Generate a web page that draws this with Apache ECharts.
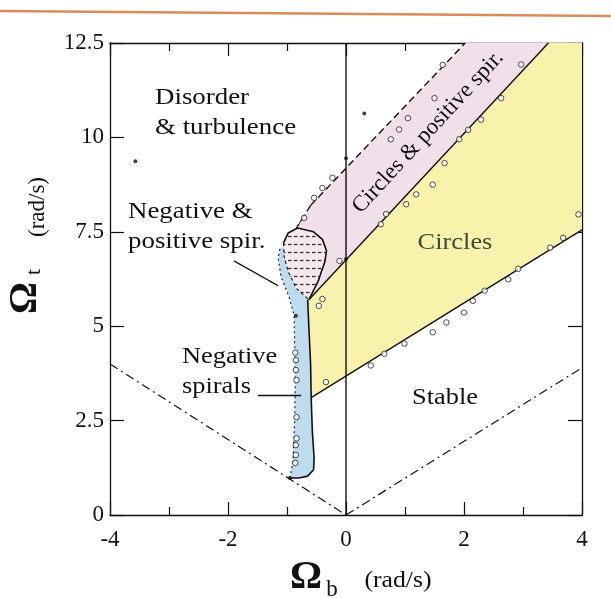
<!DOCTYPE html>
<html><head><meta charset="utf-8">
<script src="https://cdn.jsdelivr.net/npm/echarts@6/dist/echarts.min.js"></script>
<style>html,body{margin:0;padding:0;background:#fff}#c{width:611px;height:598px}</style>
</head><body><div id="c"></div>
<script>
// ---- axis ranges / ticks ----
const xRange = [-4, 4];
const yRange = [0, 12.5];
const xTickStep = 2;
const yTickStep = 2.5;

// ---- boundary lines (Omega_b, Omega_t) ----
const axisZeroLine = [[0, 0], [0, 12.5]];
const upperSolidBoundary = [[-0.63, 5.7], [3.43, 12.5]];
const lowerSolidBoundary = [[-0.59, 3.11], [4, 7.55]];
const dashedBoundary = [[-0.6, 8.2], [2.02, 12.5]];
const dashedArrowEnd = [[-0.6, 8.2], [-0.84, 7.6]];
const stabilityLeft = [[-4, 4.0], [0, 0]];
const stabilityRight = [[0, 0], [4, 3.9]];

// ---- regions ----
const pinkRegion = [[-0.84, 7.6], [-0.6, 8.2], [2.02, 12.5], [3.43, 12.5], [-0.63, 5.7], [-0.4, 6.4], [-0.33, 7.0], [-0.5, 7.5]];
const yellowRegion = [[-0.63, 5.7], [3.43, 12.5], [4, 12.5], [4, 7.55], [-0.59, 3.11], [-0.61, 4.5], [-0.63, 5.4]];
const blueRegion = [[-0.95, 0.98], [-0.9, 1.4], [-0.87, 2.5], [-0.86, 3.5], [-0.87, 4.5], [-0.88, 5.3], [-0.97, 5.8], [-1.1, 6.3], [-1.15, 6.8], [-1.12, 7.05], [-1.0, 7.2], [-0.75, 6.3], [-0.63, 5.7], [-0.63, 5.0], [-0.6, 4.0], [-0.59, 3.1], [-0.57, 2.2], [-0.54, 1.5], [-0.55, 1.2], [-0.65, 1.03], [-0.8, 0.98]];
const lobeRegion = [[-0.63, 5.7], [-0.47, 6.2], [-0.36, 6.7], [-0.33, 7.0], [-0.4, 7.3], [-0.55, 7.5], [-0.82, 7.6], [-0.98, 7.47], [-1.06, 7.2], [-1.05, 6.85], [-0.98, 6.45], [-0.84, 6.0]];
const lobeOutline = [[-0.63, 5.7], [-0.47, 6.2], [-0.36, 6.7], [-0.33, 7.0], [-0.4, 7.3], [-0.55, 7.5], [-0.82, 7.6], [-0.98, 7.47], [-1.06, 7.2]];
const lobeLeftEdge = [[-1.06, 7.2], [-1.05, 6.85], [-0.98, 6.45], [-0.84, 6.0], [-0.63, 5.7]];
const stripRightEdge = [[-0.65, 5.7], [-0.63, 5.0], [-0.6, 4.0], [-0.59, 3.1], [-0.57, 2.2], [-0.54, 1.5], [-0.55, 1.2], [-0.65, 1.03], [-0.8, 0.98], [-0.97, 0.98]];
const stripLeftEdge = [[-0.95, 0.98], [-0.9, 1.4], [-0.87, 2.5], [-0.86, 3.5], [-0.87, 4.5], [-0.88, 5.3], [-0.97, 5.8], [-1.1, 6.3], [-1.15, 6.8], [-1.12, 7.05]];

// ---- arrows ----
const arrowNegPos = [[-1.9, 6.73], [-1.15, 6.07]];
const arrowNegSpirals = [[-1.49, 3.17], [-0.76, 3.17]];

// ---- measured points ----
const openCircles = [
  [1.64, 11.92], [1.50, 11.04], [1.05, 10.51], [0.90, 10.21], [0.76, 9.95],
  [2.97, 11.93], [2.63, 11.04], [2.29, 10.47], [2.07, 10.2], [1.92, 9.95],
  [1.67, 9.32], [1.47, 8.75], [1.19, 8.49], [1.02, 8.23], [0.68, 7.97], [0.59, 7.7],
  [3.94, 7.96], [3.68, 7.34], [3.46, 7.08], [2.92, 6.52], [-0.11, 6.73],
  [-0.23, 8.93], [-0.40, 8.66], [-0.54, 8.4], [-0.71, 7.87],
  [2.75, 6.24], [2.35, 5.94], [2.15, 5.67], [2.0, 5.36], [1.70, 5.10], [1.47, 4.84],
  [0.99, 4.54], [0.65, 4.27], [0.42, 3.96], [-0.40, 5.72], [-0.46, 5.54], [-0.34, 3.52],
  [-0.86, 4.3], [-0.85, 4.1], [-0.85, 3.84], [-0.84, 3.57], [-0.84, 2.59],
  [-0.84, 2.03], [-0.85, 1.85], [-0.85, 1.59], [-0.86, 1.38]
];
const filledDots = [[0, 9.45], [0, 6.78], [-0.85, 5.28], [-3.57, 9.37], [0.31, 10.63], [-0.95, 0.98]];

// ---- hatch pattern for the lobe ----
const pc = document.createElement('canvas');
pc.width = 6; pc.height = 8;
const g = pc.getContext('2d');
g.fillStyle = '#f5e9ee'; g.fillRect(0, 0, 6, 8);
g.strokeStyle = '#333'; g.lineWidth = 1.3;
g.beginPath(); g.moveTo(0, 4.5); g.lineTo(3.5, 4.5); g.stroke();

function polySeries(points, fill, z) {
  return {
    type: 'custom', data: points, z: z, silent: true,
    encode: { x: 0, y: 1 },
    renderItem: function (params, api) {
      if (params.dataIndex !== 0) return null;
      return { type: 'polygon', shape: { points: points.map(p => api.coord(p)) }, style: { fill: fill } };
    }
  };
}
function lineSeries(points, style, z) {
  return {
    type: 'line', data: points, symbol: 'none', silent: true, z: z || 5,
    lineStyle: Object.assign({ color: '#111', width: 1.4 }, style)
  };
}
const dashDot = [9, 4, 2, 4];
const serif = '"Liberation Serif", "Times New Roman", serif';
const tickLabel = { color: '#111', fontFamily: 'Liberation Serif', fontSize: 23 };

const chart = echarts.init(document.getElementById('c'), null, { renderer: 'canvas' });
chart.setOption({
  animation: false,
  backgroundColor: '#fff',
  textStyle: { fontFamily: 'Liberation Serif' },
  grid: { left: 110, right: 29, top: 43, bottom: 83, outerBoundsMode: 'none' },
  xAxis: [
    { type: 'value', min: xRange[0], max: xRange[1], interval: xTickStep, position: 'bottom',
      axisLine: { show: true, onZero: false, lineStyle: { color: '#111', width: 1.3 } },
      axisTick: { show: true, inside: true, length: 13, lineStyle: { color: '#111', width: 1.2 } },
      minorTick: { show: true, splitNumber: 2, length: 8, lineStyle: { color: '#111', width: 1.2 } },
      splitLine: { show: false }, minorSplitLine: { show: false },
      axisLabel: Object.assign({ margin: 13 }, tickLabel) },
    { type: 'value', min: xRange[0], max: xRange[1], interval: xTickStep, position: 'top',
      axisLine: { show: true, onZero: false, lineStyle: { color: '#111', width: 1.3 } },
      axisTick: { show: true, inside: true, length: 13, lineStyle: { color: '#111', width: 1.2 } },
      minorTick: { show: true, splitNumber: 2, length: 8, lineStyle: { color: '#111', width: 1.2 } },
      splitLine: { show: false }, axisLabel: { show: false } }
  ],
  yAxis: [
    { type: 'value', min: yRange[0], max: yRange[1], interval: yTickStep, position: 'left',
      axisLine: { show: true, onZero: false, lineStyle: { color: '#111', width: 1.3 } },
      axisTick: { show: true, inside: true, length: 14, lineStyle: { color: '#111', width: 1.2 } },
      splitLine: { show: false },
      axisLabel: Object.assign({ margin: 6 }, tickLabel) },
    { type: 'value', min: yRange[0], max: yRange[1], interval: yTickStep, position: 'right',
      axisLine: { show: true, onZero: false, lineStyle: { color: '#111', width: 1.3 } },
      axisTick: { show: true, inside: true, length: 14, lineStyle: { color: '#111', width: 1.2 } },
      splitLine: { show: false }, axisLabel: { show: false } }
  ],
  series: [
    polySeries(pinkRegion, '#f1dfea', 1),
    polySeries(yellowRegion, '#f8f2ac', 1),
    polySeries(blueRegion, '#bddcee', 2),
    polySeries(lobeRegion, { image: pc, repeat: 'repeat' }, 3),
    lineSeries(axisZeroLine, {}),
    lineSeries(upperSolidBoundary, {}),
    lineSeries(lowerSolidBoundary, {}),
    lineSeries(dashedBoundary, { type: [7, 4] }),
    lineSeries(stabilityLeft, { type: dashDot, width: 1.2 }),
    lineSeries(stabilityRight, { type: dashDot, width: 1.2 }),
    lineSeries(lobeOutline, { width: 1.6 }),
    lineSeries(lobeLeftEdge, { type: [3, 3], width: 1.1 }),
    lineSeries(stripRightEdge, { width: 1.6 }),
    lineSeries(stripLeftEdge, { type: [2, 3], width: 1.1 }),
    {
      type: 'line', data: [], silent: true, z: 6,
      markLine: {
        silent: true, symbol: ['none', 'arrow'], symbolSize: [1, 11],
        label: { show: false },
        lineStyle: { color: '#111', width: 1.3, type: 'solid' },
        data: [
          [{ coord: arrowNegPos[0] }, { coord: arrowNegPos[1] }],
          [{ coord: arrowNegSpirals[0] }, { coord: arrowNegSpirals[1] }],
          [{ coord: dashedArrowEnd[0], lineStyle: { type: [7, 4] } }, { coord: dashedArrowEnd[1] }]
        ]
      }
    },
    { type: 'scatter', data: openCircles, symbol: 'circle', symbolSize: 5.5, z: 7, silent: true,
      itemStyle: { color: '#fff', borderColor: '#222', borderWidth: 1 } },
    { type: 'scatter', data: filledDots, symbol: 'circle', symbolSize: 4, z: 7, silent: true,
      itemStyle: { color: '#111' } }
  ],
  graphic: [
    { type: 'line', shape: { x1: 0, y1: 11, x2: 611, y2: 16 }, style: { stroke: '#d98b5a', lineWidth: 2.5 }, z: 10 },
    { type: 'text', x: 155, y: 98, scaleX: 1.12, style: { text: 'Disorder', font: '24px ' + serif, fill: '#111', textAlign: 'left', textVerticalAlign: 'middle' }, z: 10 },
    { type: 'text', x: 155, y: 128, scaleX: 1.12, style: { text: '& turbulence', font: '24px ' + serif, fill: '#111', textAlign: 'left', textVerticalAlign: 'middle' }, z: 10 },
    { type: 'text', x: 128, y: 212, scaleX: 1.12, style: { text: 'Negative &', font: '24px ' + serif, fill: '#111', textAlign: 'left', textVerticalAlign: 'middle' }, z: 10 },
    { type: 'text', x: 128, y: 242, scaleX: 1.12, style: { text: 'positive spir.', font: '24px ' + serif, fill: '#111', textAlign: 'left', textVerticalAlign: 'middle' }, z: 10 },
    { type: 'text', x: 182, y: 357, scaleX: 1.1, style: { text: 'Negative', font: '24px ' + serif, fill: '#111', textAlign: 'left', textVerticalAlign: 'middle' }, z: 10 },
    { type: 'text', x: 182, y: 387, scaleX: 1.1, style: { text: 'spirals', font: '24px ' + serif, fill: '#111', textAlign: 'left', textVerticalAlign: 'middle' }, z: 10 },
    { type: 'text', x: 428, y: 132, rotation: 47.4 * Math.PI / 180, style: { text: 'Circles & positive spir.', font: '23px ' + serif, fill: '#111', textAlign: 'center', textVerticalAlign: 'middle' }, z: 10 },
    { type: 'text', x: 455, y: 243, scaleX: 1.1, style: { text: 'Circles', font: '24px ' + serif, fill: '#3f4a35', textAlign: 'center', textVerticalAlign: 'middle' }, z: 10 },
    { type: 'text', x: 445, y: 398, scaleX: 1.1, style: { text: 'Stable', font: '24px ' + serif, fill: '#111', textAlign: 'center', textVerticalAlign: 'middle' }, z: 10 },
    // y title
    { type: 'text', x: 26, y: 298, rotation: Math.PI / 2, style: { text: 'Ω', font: 'bold 40px ' + serif, fill: '#111', textAlign: 'center', textVerticalAlign: 'middle' }, z: 10 },
    { type: 'text', x: 34, y: 272, rotation: Math.PI / 2, style: { text: 't', font: '22px ' + serif, fill: '#111', textAlign: 'center', textVerticalAlign: 'middle' }, z: 10 },
    { type: 'text', x: 38, y: 207, rotation: Math.PI / 2, style: { text: '(rad/s)', font: '23px ' + serif, fill: '#111', textAlign: 'center', textVerticalAlign: 'middle' }, z: 10 },
    // x title
    { type: 'text', x: 306, y: 578, style: { text: 'Ω', font: 'bold 40px ' + serif, fill: '#111', textAlign: 'center', textVerticalAlign: 'middle' }, z: 10 },
    { type: 'text', x: 332, y: 590, style: { text: 'b', font: '23px ' + serif, fill: '#111', textAlign: 'center', textVerticalAlign: 'middle' }, z: 10 },
    { type: 'text', x: 398, y: 581, scaleX: 1.12, style: { text: '(rad/s)', font: '23px ' + serif, fill: '#111', textAlign: 'center', textVerticalAlign: 'middle' }, z: 10 }
  ]
});
</script></body></html>
